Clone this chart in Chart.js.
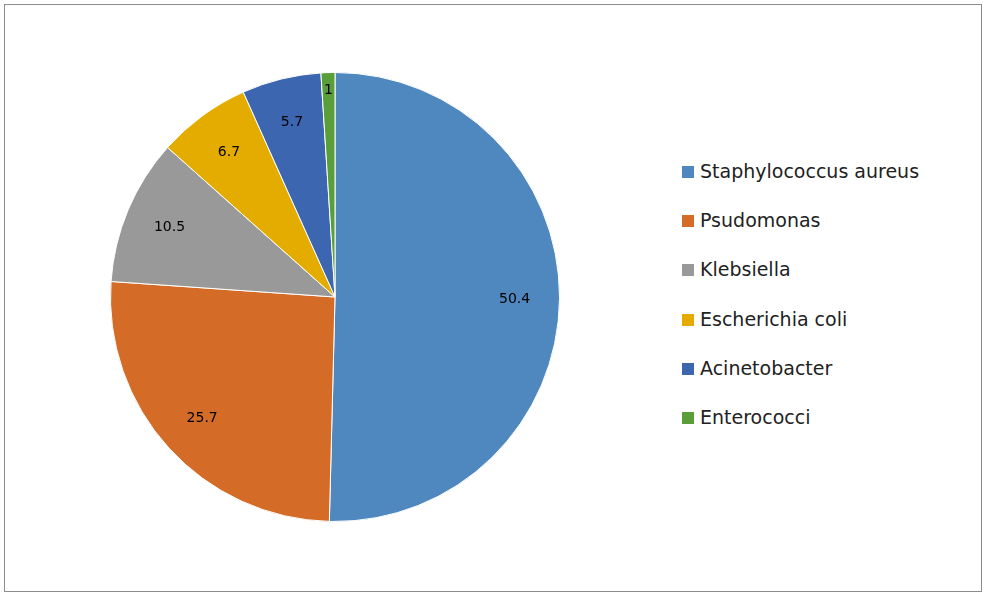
<!DOCTYPE html>
<html><head><meta charset="utf-8">
<script src="https://cdn.jsdelivr.net/npm/chart.js@4/dist/chart.umd.min.js"></script>
<style>
body{margin:0;background:#fff;font-family:"DejaVu Sans",sans-serif;}
#frame{position:absolute;left:4px;top:4px;width:976px;height:586px;border:1px solid #8c8c8c;}
#wrap{position:absolute;left:0;top:0;width:670px;height:594px;}
#legend{position:absolute;left:680px;top:160px;}
.item{height:49.2px;display:flex;align-items:flex-start;font-size:19px;color:#222;}
.sw{width:12px;height:12px;margin:6px 6px 0 2px;}
</style></head><body>
<div id="frame"></div>
<div id="wrap"><canvas id="c"></canvas></div>
<div id="legend"></div>
<script>
const categories=["Staphylococcus aureus","Psudomonas","Klebsiella","Escherichia coli","Acinetobacter","Enterococci"];
const values=[50.4,25.7,10.5,6.7,5.7,1];
const labels=["50.4","25.7","10.5","6.7","5.7","1"];
const colors=["#4e88bf","#d46c28","#999999","#e5ac00","#3d66b0","#5a9e3a"];
const lg=document.getElementById('legend');
categories.forEach((c,i)=>{lg.innerHTML+=`<div class="item"><div class="sw" style="background:${colors[i]}"></div><span>${c}</span></div>`;});
const lbl={id:'lbl',afterDatasetsDraw(ch){const ctx=ch.ctx;ctx.save();ctx.font='14px "DejaVu Sans"';ctx.fillStyle='#000';ctx.textAlign='center';ctx.textBaseline='middle';
ch.getDatasetMeta(0).data.forEach((a,i)=>{const p=a.getProps(['x','y','startAngle','endAngle','outerRadius'],true);const m=(p.startAngle+p.endAngle)/2;const r=p.outerRadius*(i==5?0.92:0.8);ctx.fillText(labels[i],p.x+Math.cos(m)*r,p.y+Math.sin(m)*r);});ctx.restore();}};
new Chart(document.getElementById('c'),{type:'pie',data:{labels:categories,datasets:[{data:values,backgroundColor:colors,borderColor:'#fff',borderWidth:1}]},
options:{responsive:true,maintainAspectRatio:false,animation:false,layout:{padding:{top:72,bottom:72}},plugins:{legend:{display:false},tooltip:{enabled:false}}},plugins:[lbl]});
</script></body></html>
